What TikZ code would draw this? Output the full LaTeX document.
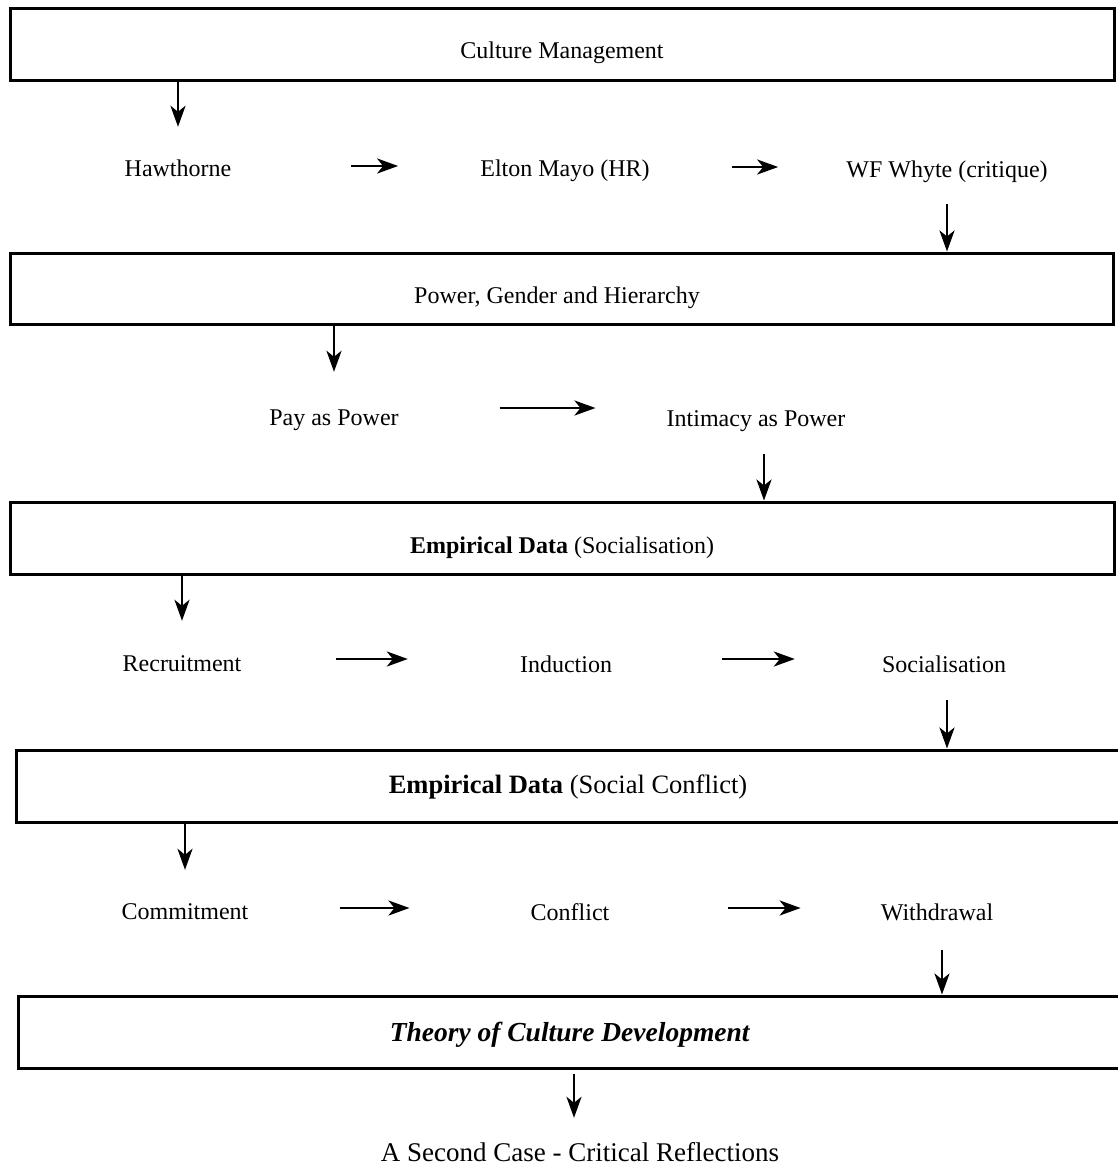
\documentclass[tikz,border=0pt]{standalone}
\usepackage{fontspec}
\setmainfont{Liberation Serif}
\usetikzlibrary{arrows.meta}
\begin{document}
\begin{tikzpicture}[x=1pt,y=-1pt,
  stage/.style={draw, line width=3pt, inner sep=0pt, minimum height=72pt},
  lbl/.style={inner sep=0pt, font=\fontsize{24}{28}\selectfont, text height=17pt, text depth=5pt},
  biglbl/.style={inner sep=0pt, font=\fontsize{27}{32}\selectfont, text height=19pt, text depth=6pt},
  flow/.style={line width=2.8pt, -{Stealth[length=21pt,width=15pt,inset=6pt]}}]
\useasboundingbox (0,0) rectangle (1118,1171);

% stage boxes
\node[stage, minimum width=1104pt] (b1) at (562,44) {};
\node[stage, minimum width=1103pt, minimum height=71pt] (b2) at (561.5,288.5) {};
\node[stage, minimum width=1104pt] (b3) at (562,538) {};
\node[stage, minimum width=1108pt] (b4) at (570,786) {};
\node[stage, minimum width=1106pt] (b5) at (571,1032) {};

% stage titles
\node[lbl] (t1) at (562,52) {Culture Management};
\node[lbl] (t2) at (557,297) {Power, Gender and Hierarchy};
\node[lbl] (t3) at (562,547) {\textbf{Empirical Data} (Socialisation)};
\node[biglbl, font=\fontsize{26.5}{32}\selectfont] (t4) at (568,787) {\textbf{Empirical Data} (Social Conflict)};
\node[biglbl, font=\fontsize{27.5}{32}\selectfont] (t5) at (570,1035) {\textbf{\textit{Theory of Culture Development}}};

% row 1
\node[lbl] (haw) at (178,170) {Hawthorne};
\node[lbl] (mayo) at (565,170) {Elton Mayo (HR)};
\node[lbl] (whyte) at (947,171) {WF Whyte (critique)};
\draw[flow, shorten >=32pt] (b1.south -| haw.north) -- (haw.north);
\draw[flow, shorten <=119pt, shorten >=82pt] ([yshift=4pt]haw.east) -- ([yshift=4pt]mayo.west);
\draw[flow, shorten <=82pt, shorten >=68pt] ([yshift=3pt]mayo.east) -- ([yshift=4pt]whyte.west);
\draw[flow, shorten <=22pt] (whyte.south) -- (whyte.south |- b2.north);

% row 2
\node[lbl] (pay) at (334,419) {Pay as Power};
\node[lbl] (intim) at (756,420) {Intimacy as Power};
\draw[flow, shorten >=36pt] (b2.south -| pay.north) -- (pay.north);
\draw[flow, shorten <=101pt, shorten >=71pt] ([yshift=11pt]pay.east) -- ([yshift=12pt]intim.west);
\draw[flow, shorten <=23pt] ([xshift=8pt]intim.south) -- ([xshift=8pt]intim.south |- b3.north);

% row 3
\node[lbl] (recr) at (182,665) {Recruitment};
\node[lbl] (induc) at (566,666) {Induction};
\node[lbl] (soc) at (944,666) {Socialisation};
\draw[flow, shorten >=33pt] (b3.south -| recr.north) -- (recr.north);
\draw[flow, shorten <=94pt, shorten >=112pt] ([yshift=6pt]recr.east) -- ([yshift=7pt]induc.west);
\draw[flow, shorten <=110pt, shorten >=87pt] ([yshift=7pt]induc.east) -- ([yshift=7pt]soc.west);
\draw[flow, shorten <=23pt] ([xshift=3pt]soc.south) -- ([xshift=3pt]soc.south |- b4.north);

% row 4
\node[lbl] (comm) at (185,913) {Commitment};
\node[lbl] (confl) at (570,914) {Conflict};
\node[lbl] (withd) at (937,914) {Withdrawal};
\draw[flow, shorten >=32pt] (b4.south -| comm.north) -- (comm.north);
\draw[flow, shorten <=91pt, shorten >=121pt] ([yshift=5pt]comm.east) -- ([yshift=6pt]confl.west);
\draw[flow, shorten <=118pt, shorten >=80pt] ([yshift=6pt]confl.east) -- ([yshift=6pt]withd.west);
\draw[flow, shorten <=25pt] ([xshift=5pt]withd.south) -- ([xshift=5pt]withd.south |- b5.north);

% closing step
\node[biglbl] (final) at (580,1155) {A Second Case - Critical Reflections};
\draw[flow, shorten <=4.5pt, shorten >=24.5pt] ([xshift=-6pt]final.north |- b5.south) -- ([xshift=-6pt]final.north);
\end{tikzpicture}
\end{document}
